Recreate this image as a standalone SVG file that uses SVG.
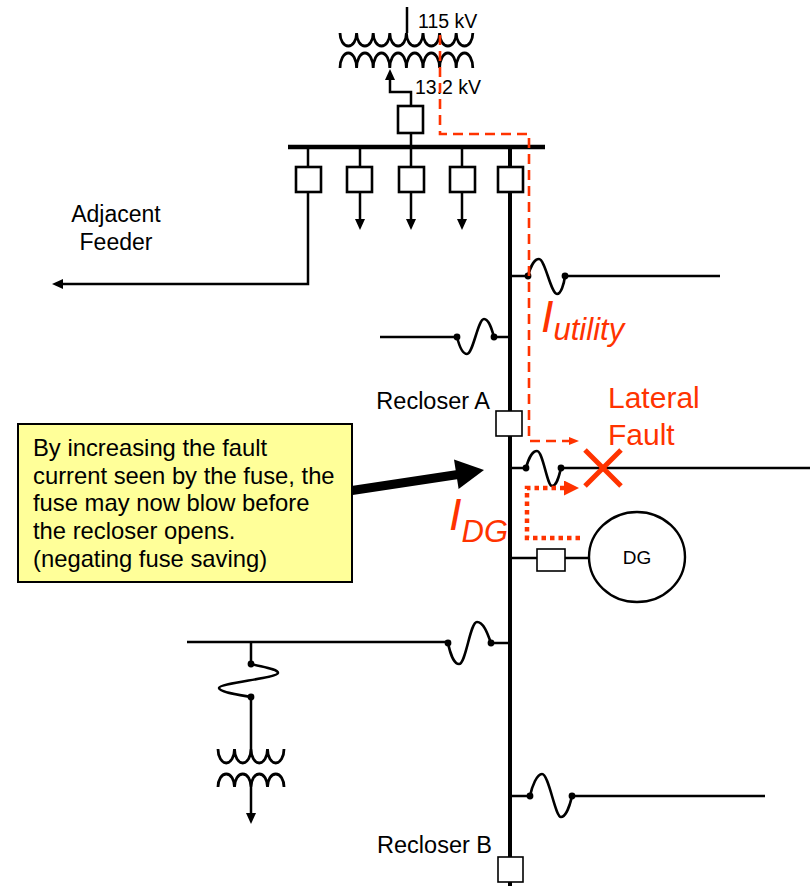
<svg xmlns="http://www.w3.org/2000/svg" width="810" height="886" viewBox="0 0 810 886">
<style>
.w{fill:none;stroke:#000;stroke-width:2.5}
.main{fill:none;stroke:#000;stroke-width:4}
.bus{fill:none;stroke:#000;stroke-width:4.5}
.box{fill:#fff;stroke:#000;stroke-width:2.6}
.rbox{fill:#fff;stroke:#000;stroke-width:1.6}
.fuse{fill:none;stroke:#000;stroke-width:2.6}
.dot{fill:#000}
.coil{fill:none;stroke:#000;stroke-width:2.8}
.rdash{fill:none;stroke:#FF3300;stroke-width:2.6;stroke-dasharray:10 6}
.rdot{fill:none;stroke:#FF3300;stroke-width:4.5;stroke-dasharray:4.5 4}
.t{font-family:"Liberation Sans",Arial,sans-serif;fill:#000}
.rt{font-family:"Liberation Sans",Arial,sans-serif;fill:#FF3300}
.ri{font-family:"Liberation Sans",Arial,sans-serif;fill:#FF3300;font-style:italic}
</style>
<defs>
<marker id="ah" markerUnits="userSpaceOnUse" markerWidth="12" markerHeight="12" refX="3" refY="5" orient="auto"><path d="M0,0 L11,5 L0,10 z" fill="#000"/></marker>
<marker id="rs" markerUnits="userSpaceOnUse" markerWidth="12" markerHeight="10" refX="2" refY="4" orient="auto"><path d="M0,0 L10,4 L0,8 z" fill="#FF3300"/></marker>
<marker id="rb" markerUnits="userSpaceOnUse" markerWidth="17" markerHeight="17" refX="2" refY="7.5" orient="auto"><path d="M0,0 L15,7.5 L0,15 z" fill="#FF3300"/></marker>
</defs>
<rect width="810" height="886" fill="#fff"/>

<g id="connectors">
<path class="w" d="M407 7 V33"/>
<path class="w" d="M411 106 V92 H390 V77" marker-end="url(#ah)"/>
<path class="w" d="M411 133 V147"/>
<path class="w" d="M308 147 V167 M360 147 V167 M411 147 V167 M462 147 V167"/>
<path class="w" d="M360 192 V222" marker-end="url(#ah)"/>
<path class="w" d="M411 192 V222" marker-end="url(#ah)"/>
<path class="w" d="M462 192 V222" marker-end="url(#ah)"/>
<path class="w" d="M308 192 V284 H60" marker-end="url(#ah)"/>
<path class="main" d="M510 147 V886"/>
<path class="w" d="M510 276 H528 M565 276 H720"/>
<path class="w" d="M510 337 H494 M457 337 H380"/>
<path class="w" d="M510 468 H526 M561 468 H810"/>
<path class="w" d="M510 643 H491 M448 642 H187"/>
<path class="w" d="M251 642 V664 M251 697 V749"/>
<path class="w" d="M251 787 V816" marker-end="url(#ah)"/>
<path class="w" d="M510 796 H530 M572 796 H765"/>
<path class="w" d="M510 558 H589"/>
<path class="bus" d="M288 147 H545"/>
</g>

<g id="transformer-main">
<path class="coil" d="M340 33 a8.3 13 0 0 0 16.6 0 a8.3 13 0 0 0 16.6 0 a8.3 13 0 0 0 16.6 0 a8.3 13 0 0 0 16.6 0 a8.3 13 0 0 0 16.6 0 a8.3 13 0 0 0 16.6 0 a8.3 13 0 0 0 16.6 0 a8.3 13 0 0 0 16.6 0"/>
<path class="coil" d="M340 68 a8.3 15 0 0 1 16.6 0 a8.3 15 0 0 1 16.6 0 a8.3 15 0 0 1 16.6 0 a8.3 15 0 0 1 16.6 0 a8.3 15 0 0 1 16.6 0 a8.3 15 0 0 1 16.6 0 a8.3 15 0 0 1 16.6 0 a8.3 15 0 0 1 16.6 0"/>
<text class="t" x="418" y="28" font-size="19.5">115 kV</text>
<text class="t" x="415" y="94" font-size="19.5">13.2 kV</text>
</g>

<g id="breakers">
<rect class="box" x="398" y="106" width="25" height="27"/>
<rect class="box" x="296" y="167" width="25" height="25"/>
<rect class="box" x="347" y="167" width="25" height="25"/>
<rect class="box" x="399" y="167" width="25" height="25"/>
<rect class="box" x="450" y="167" width="25" height="25"/>
<rect class="box" x="498" y="167" width="25" height="25"/>
</g>

<g id="adjacent-feeder">
<text class="t" x="116" y="222" font-size="23" text-anchor="middle">Adjacent</text>
<text class="t" x="116" y="250" font-size="23" text-anchor="middle">Feeder</text>
</g>

<g id="fuses">
<path class="fuse" d="M528 276 C530 268 534 259 539 259 C545 259 551 294 557 294 C561 294 564 284 565 276"/>
<path class="fuse" d="M457 337 C459 345 462 354 467 354 C473 354 478 319 484 319 C489 319 492 330 494 337"/>
<path class="fuse" d="M526 468 C528 460 532 451 537 451 C543 451 547 486 552 486 C557 486 559 476 561 468"/>
<path class="fuse" d="M448 643 C450 653 454 664 459 664 C466 664 470 622 477 622 C484 622 488 635 491 643"/>
<path class="fuse" d="M530 796 C532 786 537 774 542 774 C549 774 555 817 561 817 C566 817 570 805 572 796"/>
<path class="fuse" d="M251 664 C262 667 278 669 278 673 C278 678 219 683 219 688 C219 692 240 695 251 697"/>
<g class="dot">
<circle cx="528" cy="276" r="3.4"/><circle cx="565" cy="276" r="3.4"/>
<circle cx="457" cy="337" r="3.4"/><circle cx="494" cy="337" r="3.4"/>
<circle cx="526" cy="468" r="3.4"/><circle cx="561" cy="468" r="3.4"/>
<circle cx="448" cy="643" r="3.4"/><circle cx="491" cy="643" r="3.4"/>
<circle cx="530" cy="796" r="3.4"/><circle cx="572" cy="796" r="3.4"/>
<circle cx="251" cy="664" r="3.4"/><circle cx="251" cy="697" r="3.4"/>
</g>
</g>

<g id="transformer-lateral">
<path class="coil" d="M218 749 a8.25 14 0 0 0 16.5 0 a8.25 14 0 0 0 16.5 0 a8.25 14 0 0 0 16.5 0 a8.25 14 0 0 0 16.5 0"/>
<path class="coil" d="M218 787 a8.25 13 0 0 1 16.5 0 a8.25 13 0 0 1 16.5 0 a8.25 13 0 0 1 16.5 0 a8.25 13 0 0 1 16.5 0"/>
</g>

<g id="recloser-a">
<rect class="rbox" x="496" y="411" width="26" height="25"/>
<text class="t" x="490" y="409" font-size="23.5" text-anchor="end">Recloser A</text>
</g>

<g id="recloser-b">
<rect class="rbox" x="498" y="857" width="25" height="25"/>
<text class="t" x="492" y="853" font-size="23.5" text-anchor="end">Recloser B</text>
</g>

<g id="dg">
<rect class="rbox" x="537" y="549" width="28" height="22"/>
<ellipse cx="637" cy="557" rx="48" ry="45" fill="#fff" stroke="#000" stroke-width="2.4"/>
<text class="t" x="637" y="564" font-size="19" text-anchor="middle">DG</text>
</g>

<g id="fault-currents">
<path class="rdash" d="M440 35 V134 H529 V441 H571" marker-end="url(#rs)"/>
<path class="rdot" d="M580 538 H527 V488 H566" marker-end="url(#rb)"/>
<text class="ri" x="541" y="332" font-size="45">I<tspan font-size="31" y="340">utility</tspan></text>
<text class="ri" x="449" y="530" font-size="45">I<tspan font-size="31" y="542">DG</tspan></text>
</g>

<g id="lateral-fault">
<path d="M585 450 L621 486 M621 450 L585 486" stroke="#FF3300" stroke-width="5" fill="none"/>
<text class="rt" x="608" y="408" font-size="30">Lateral</text>
<text class="rt" x="608" y="445" font-size="30">Fault</text>
</g>

<g id="note">
<rect x="18" y="424" width="334" height="158" fill="#FFFF99" stroke="#000" stroke-width="2"/>
<text class="t" font-size="23.8">
<tspan x="33" y="456">By increasing the fault</tspan>
<tspan x="33" y="483.7">current seen by the fuse, the</tspan>
<tspan x="33" y="511.4">fuse may now blow before</tspan>
<tspan x="33" y="539">the recloser opens.</tspan>
<tspan x="33" y="566.7">(negating fuse saving)</tspan>
</text>
<path d="M352 490.5 L458 474.5" stroke="#000" stroke-width="9" fill="none"/>
<polygon points="484,470 458.6,489 454,459.4" fill="#000"/>
</g>
</svg>
